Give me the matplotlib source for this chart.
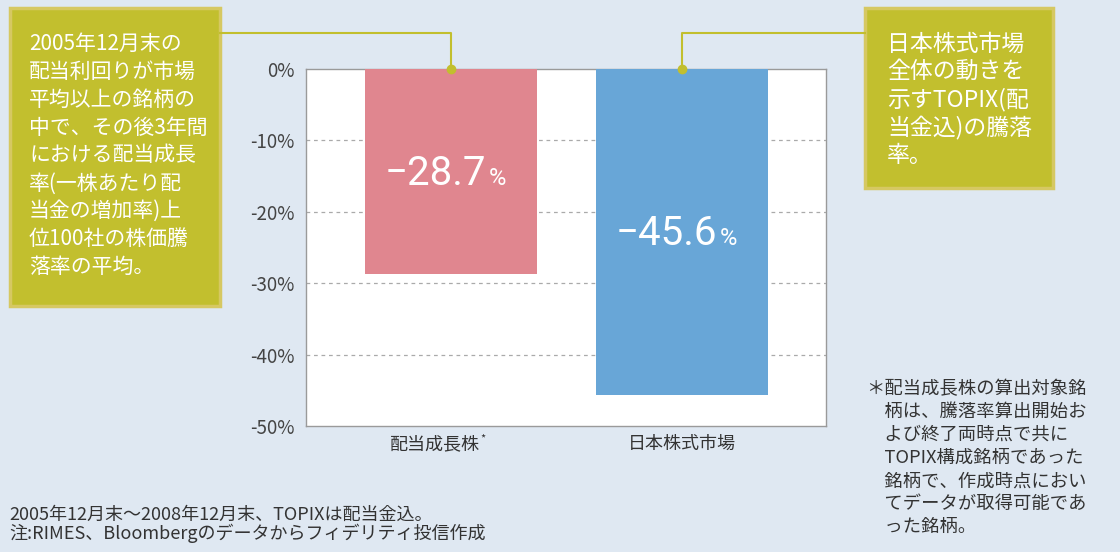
import matplotlib
matplotlib.use("Agg")
import matplotlib.pyplot as plt
from matplotlib.patches import Rectangle
from matplotlib.lines import Line2D

plt.rcParams['font.family'] = ['Noto Sans CJK JP', 'DejaVu Sans']

# data
categories = ['配当成長株', '日本株式市場']
values = [-28.7, -45.6]
bar_colors = ['#e0868f', '#68a6d7']
yticks = [0, -10, -20, -30, -40, -50]
ytick_labels = ['0%', '-10%', '-20%', '-30%', '-40%', '-50%']

left_note = ('2005年12月末の\n配当利回りが市場\n平均以上の銘柄の\n中で、その後3年間\n'
             'における配当成長\n率(一株あたり配\n当金の増加率)上\n位100社の株価騰\n落率の平均。')
right_note = '日本株式市場\n全体の動きを\n示すTOPIX(配\n当金込)の騰落\n率。'
footnote = ('＊配当成長株の算出対象銘\n　柄は、騰落率算出開始お\n　よび終了両時点で共に\n'
            '　TOPIX構成銘柄であった\n　銘柄で、作成時点におい\n　てデータが取得可能であ\n　った銘柄。')
source = '2005年12月末～2008年12月末、TOPIXは配当金込。\n注:RIMES、Bloombergのデータからフィデリティ投信作成'

BG = '#dfe8f2'
OLIVE = '#c2bf2e'
W, H = 1120, 552

fig = plt.figure(figsize=(W / 100, H / 100), dpi=100, facecolor=BG)


def px(x, y):
    return x / W, 1 - y / H


ax = fig.add_axes([306 / W, 1 - 426 / H, 520 / W, 357 / H])
ax.set_facecolor('white')
pos = [0, 1]
ax.bar(pos, values, width=0.745, color=bar_colors, zorder=3)
ax.set_xlim(-0.628, 1.623)
ax.set_ylim(-50, 0)
ax.set_yticks(yticks)
ax.set_yticklabels(ytick_labels, fontsize=13.5, color='#444444')
ax.set_xticks(pos)
ax.set_xticklabels(['', ''])
ax.tick_params(length=0, pad=8)
for v in yticks[1:-1]:
    ax.axhline(v, color='#aaaaaa', lw=0.9, ls=(0, (3, 3)), zorder=1)
for s in ax.spines.values():
    s.set_color('#9a9a9a')
    s.set_linewidth(1.0)

# category labels
ax.text(pos[0] - 0.07, -52.5, categories[0], ha='center', va='center', fontsize=13, color='#333333')
ax.text(pos[0] + 0.125, -51.8, '*', ha='left', va='center', fontsize=8, color='#333333')
ax.text(pos[1], -52.5, categories[1], ha='center', va='center', fontsize=13, color='#333333')

# value labels
label_y = [-16.25, -24.65]
for p, v, yy in zip(pos, values, label_y):
    ax.text(p + 0.15, yy, f'−{abs(v):.1f}', ha='right', va='baseline', fontsize=29,
            family=['Roboto', 'DejaVu Sans'], color='white', zorder=4)
    ax.text(p + 0.165, yy, '%', ha='left', va='baseline', fontsize=17,
            family=['Roboto', 'DejaVu Sans'], color='white', zorder=4)

# annotation boxes
for (x0, y0, x1, y1) in [(10, 8, 220, 306), (865, 8, 1053, 188)]:
    fx, fy = px(x0, y1)
    fig.add_artist(Rectangle((fx, fy), (x1 - x0) / W, (y1 - y0) / H, transform=fig.transFigure,
                             facecolor=OLIVE, edgecolor='#d6c862', lw=2.5))

fig.text(*px(29, 33), left_note, ha='left', va='top', fontsize=15, color='white', linespacing=1.345)
fig.text(*px(887, 33), right_note, ha='left', va='top', fontsize=16.5, color='white', linespacing=1.235)

# connectors from boxes to bar tops
fig.canvas.draw()
inv = fig.transFigure.inverted()
for p, xbox in zip(pos, [220, 865]):
    bx, by = inv.transform(ax.transData.transform((p, 0)))
    lx, ly = px(xbox, 33)
    fig.add_artist(Line2D([lx, bx, bx], [ly, ly, by], transform=fig.transFigure, color=OLIVE, lw=1.5))
    fig.add_artist(Line2D([bx], [by], transform=fig.transFigure, marker='o', ms=6, color=OLIVE))

fig.text(*px(866, 380), footnote, ha='left', va='top', fontsize=13.2, color='#333333', linespacing=1.36)
fig.text(*px(9, 506), source, ha='left', va='top', fontsize=13, color='#333333', linespacing=0.97)

fig.savefig('out.png', dpi=100, facecolor=BG)
